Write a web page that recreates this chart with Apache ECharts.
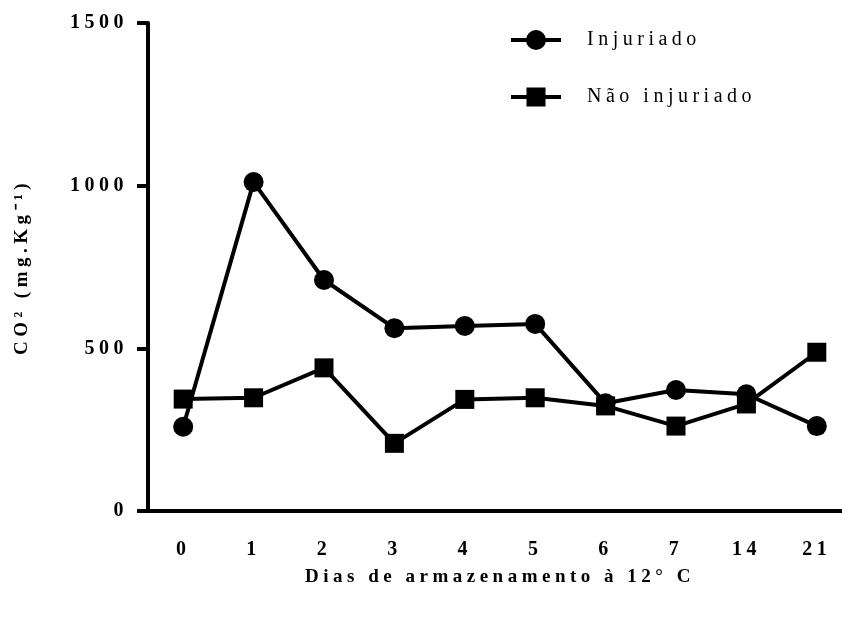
<!DOCTYPE html>
<html>
<head>
<meta charset="utf-8">
<script src="https://cdn.jsdelivr.net/npm/echarts@6/dist/echarts.min.js"></script>
<style>
html,body{margin:0;padding:0;background:#fff}
#c{width:842px;height:621px}
</style>
</head>
<body>
<div id="c"></div>
<script>
const categories = ['0','1','2','3','4','5','6','7','14','21'];
const injuriado = [259, 1011, 710, 562, 569, 575, 331, 372, 359, 261];
const naoInjuriado = [344, 348, 440, 208, 343, 348, 323, 261, 329, 488];
const yTicks = [0, 500, 1000, 1500];

// spaced-out lettering like the original figure
(function () {
  const proto = CanvasRenderingContext2D.prototype;
  const origFill = proto.fillText;
  proto.fillText = function () {
    if ('letterSpacing' in this) this.letterSpacing = '4.5px';
    return origFill.apply(this, arguments);
  };
})();

const FONT = 'Liberation Serif';
const circleIcon = 'path://M0,8L50,8L50,12L0,12Z M25,0A10,10 0 1,1 24.99,0Z';
const squareIcon = 'path://M0,8L50,8L50,12L0,12Z M15.5,0.5L34.5,0.5L34.5,19.5L15.5,19.5Z';

const chart = echarts.init(document.getElementById('c'), null, {renderer: 'canvas'});
chart.setOption({
  animation: false,
  backgroundColor: '#fff',
  grid: {left: 148, width: 704, top: 23, bottom: 110, containLabel: false, outerBoundsMode: 'none'},
  legend: {
    orient: 'vertical', left: 511, top: 30, padding: 0,
    itemWidth: 50, itemHeight: 20, itemGap: 37,
    itemStyle: {color: '#000'},
    textStyle: {fontFamily: FONT, fontSize: 20, color: '#000', padding: [0,0,0,21]},
    data: [{name: 'Injuriado', icon: circleIcon}, {name: 'Não injuriado', icon: squareIcon}]
  },
  xAxis: {
    type: 'category', data: categories, boundaryGap: true,
    name: 'Dias de armazenamento à 12° C', nameLocation: 'middle', nameGap: 57,
    nameTextStyle: {fontFamily: FONT, fontSize: 19, fontWeight: 'bold', color: '#000'},
    axisLine: {lineStyle: {color: '#000', width: 4}},
    axisTick: {alignWithLabel: true, length: 12, lineStyle: {color: '#000', width: 4}},
    axisLabel: {fontFamily: FONT, fontSize: 20, fontWeight: 'bold', color: '#000', margin: 29},
    splitLine: {show: false}
  },
  yAxis: {
    type: 'value', min: yTicks[0], max: yTicks[yTicks.length-1], interval: 500,
    name: 'CO² (mg.Kg⁻¹)', nameLocation: 'middle', nameGap: 116, nameRotate: 90,
    nameTextStyle: {fontFamily: FONT, fontSize: 19, fontWeight: 'bold', color: '#000'},
    axisLine: {show: true, lineStyle: {color: '#000', width: 4}},
    axisTick: {show: true, length: 11, lineStyle: {color: '#000', width: 4}},
    axisLabel: {fontFamily: FONT, fontSize: 20, fontWeight: 'bold', color: '#000', margin: 20,
      formatter: v => String(v)},
    splitLine: {show: false}
  },
  series: [
    {name: 'Injuriado', type: 'line', data: injuriado, symbol: 'circle', symbolSize: 20,
     lineStyle: {color: '#000', width: 4}, itemStyle: {color: '#000'}},
    {name: 'Não injuriado', type: 'line', data: naoInjuriado, symbol: 'rect', symbolSize: 19,
     lineStyle: {color: '#000', width: 4}, itemStyle: {color: '#000'}}
  ]
});
</script>
</body>
</html>
